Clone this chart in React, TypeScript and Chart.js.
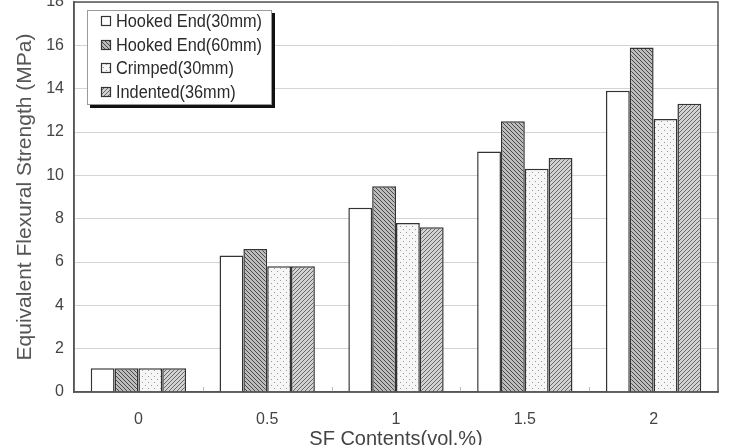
import React, { useEffect, useRef } from "react";
import { Chart, registerables } from "chart.js";

Chart.register(...registerables);

const categories = ["0", "0.5", "1", "1.5", "2"];
const seriesLabels = ["Hooked End(30mm)", "Hooked End(60mm)", "Crimped(30mm)", "Indented(36mm)"];
const hooked30 = [1.1, 6.3, 8.5, 11.1, 13.9];
const hooked60 = [1.1, 6.6, 9.5, 12.5, 15.9];
const crimped30 = [1.1, 5.8, 7.8, 10.3, 12.6];
const indented36 = [1.1, 5.8, 7.6, 10.8, 13.3];
const yTickValues = [0, 2, 4, 6, 8, 10, 12, 14, 16, 18];
const yTitle = "Equivalent Flexural Strength (MPa)";
const xTitle = "SF Contents(vol.%)";

const FONT = "'Liberation Sans', Arial, Helvetica, sans-serif";

function makeTile(size: number, draw: (c: CanvasRenderingContext2D) => void) {
  const cv = document.createElement("canvas");
  cv.width = size;
  cv.height = size;
  const c = cv.getContext("2d")!;
  draw(c);
  return cv;
}

function diagTile(size: number, bg: string, fg: string, dir: "back" | "fwd", lw: number) {
  return makeTile(size, (c) => {
    c.fillStyle = bg;
    c.fillRect(0, 0, size, size);
    c.strokeStyle = fg;
    c.lineWidth = lw;
    for (const x0 of [-size, 0, size]) {
      c.beginPath();
      if (dir === "back") {
        c.moveTo(x0, 0);
        c.lineTo(x0 + size, size);
      } else {
        c.moveTo(x0, size);
        c.lineTo(x0 + size, 0);
      }
      c.stroke();
    }
  });
}

function dotTile() {
  return makeTile(6, (c) => {
    c.fillStyle = "#f6f6f6";
    c.fillRect(0, 0, 6, 6);
    c.fillStyle = "#9a9a9a";
    c.fillRect(1, 1, 1, 1);
    c.fillRect(4, 4, 1, 1);
  });
}

export default function App() {
  const ref = useRef<HTMLCanvasElement | null>(null);

  useEffect(() => {
    const canvas = ref.current!;
    const ctx = canvas.getContext("2d")!;
    const tiles = [
      null,
      diagTile(4, "#bcbcbc", "#4a4a4a", "back", 1),
      dotTile(),
      diagTile(4, "#d2d2d2", "#686868", "fwd", 1),
    ];
    const fills: (string | CanvasPattern)[] = tiles.map((t) =>
      t ? (ctx.createPattern(t, "repeat") as CanvasPattern) : "#ffffff"
    );
    const values = [hooked30, hooked60, crimped30, indented36];

    const framePlugin = {
      id: "frame",
      afterDraw(chart: any) {
        const c = chart.ctx as CanvasRenderingContext2D;
        const a = chart.chartArea;
        c.save();
        // small ticks at category boundaries
        const n = categories.length;
        const w = (a.right - a.left) / n;
        c.strokeStyle = "#bdbdbd";
        c.lineWidth = 1;
        for (let i = 1; i < n; i++) {
          const x = Math.round(a.left + i * w) + 0.5;
          c.beginPath();
          c.moveTo(x, a.bottom);
          c.lineTo(x, a.bottom - 5);
          c.stroke();
        }
        // frame
        c.strokeStyle = "#555555";
        c.lineWidth = 1.5;
        c.strokeRect(a.left, a.top, a.right - a.left, a.bottom - a.top);

        // legend
        const bx = 87, by = 10, bw = 185, bh = 95;
        c.fillStyle = "#111111";
        c.fillRect(bx + 3, by + 3, bw, bh);
        c.fillStyle = "#ffffff";
        c.fillRect(bx, by, bw, bh);
        c.strokeStyle = "#9a9a9a";
        c.lineWidth = 1;
        c.strokeRect(bx + 0.5, by + 0.5, bw - 1, bh - 1);
        c.font = `18px ${FONT}`;
        c.textBaseline = "middle";
        c.textAlign = "left";
        const sx = 146 / c.measureText(seriesLabels[0]).width;
        const rows = [21, 45, 68, 92];
        chart.data.datasets.forEach((ds: any, i: number) => {
          const y = rows[i];
          c.fillStyle = ds.backgroundColor;
          c.fillRect(101, y - 5, 10, 10);
          c.strokeStyle = "#333333";
          c.lineWidth = 1.2;
          c.strokeRect(101.5, y - 4.5, 9, 9);
          c.fillStyle = "#2a2a2a";
          c.save();
          c.translate(116, y + 1);
          c.scale(sx, 1);
          c.fillText(ds.label, 0, 0);
          c.restore();
        });
        c.restore();
      },
    };

    const chart = new Chart(canvas, {
      type: "bar",
      data: {
        labels: categories,
        datasets: seriesLabels.map((label, i) => ({
          label,
          data: values[i],
          backgroundColor: fills[i] as any,
          borderColor: "#333333",
          borderWidth: 1.5,
          borderSkipped: "start" as const,
          categoryPercentage: 0.74,
          barPercentage: 1.0,
        })),
      },
      options: {
        responsive: false,
        animation: false,
        devicePixelRatio: 1,
        layout: { padding: { top: 2, right: 11, left: 0, bottom: 0 } },
        plugins: {
          legend: { display: false },
          tooltip: { enabled: false },
        },
        scales: {
          x: {
            grid: { display: false, drawTicks: false },
            border: { display: true, color: "#555555", width: 1.5 },
            ticks: {
              padding: 18,
              color: "#444444",
              font: { family: FONT, size: 16 },
            },
            title: {
              display: true,
              text: xTitle,
              color: "#444444",
              font: { family: FONT, size: 20, lineHeight: 0.6 },
              padding: { top: 0, bottom: 0 },
            },
            afterFit(scale: any) {
              scale.height = 53;
              scale.paddingLeft = 0;
              scale.paddingRight = 0;
            },
          },
          y: {
            min: 0,
            max: 18,
            afterBuildTicks(scale: any) {
              scale.ticks = yTickValues.map((v) => ({ value: v }));
            },
            grid: { color: "#d4d4d4", lineWidth: 1, drawTicks: false },
            border: { display: true, color: "#555555", width: 1.5 },
            ticks: {
              padding: 10,
              color: "#444444",
              font: { family: FONT, size: 16 },
            },
            title: {
              display: true,
              text: yTitle,
              color: "#555555",
              font: { family: FONT, size: 21, lineHeight: 1.2 },
              padding: { top: 13, bottom: 0 },
            },
            afterFit(scale: any) {
              scale.width = 74;
              scale.paddingTop = 0;
              scale.paddingBottom = 0;
            },
          },
        },
      },
      plugins: [framePlugin],
    });
    return () => chart.destroy();
  }, []);

  return (
    <div style={{ position: "absolute", left: 0, top: 0, width: 729, height: 445, background: "#ffffff" }}>
      <canvas ref={ref} width={729} height={445} style={{ width: 729, height: 445, display: "block" }} />
    </div>
  );
}
